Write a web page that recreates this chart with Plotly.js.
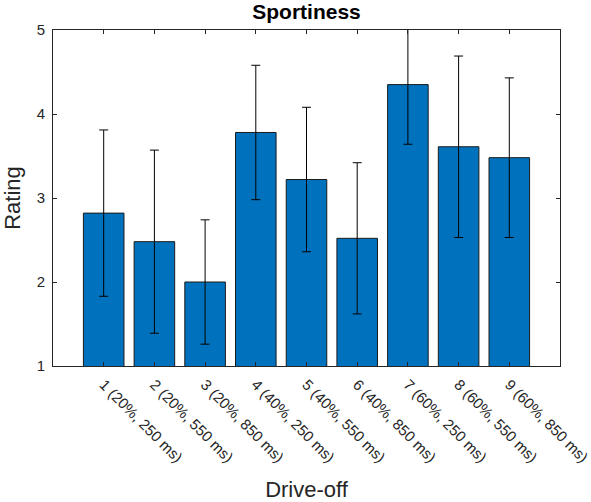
<!DOCTYPE html>
<html>
<head>
<meta charset="utf-8">
<script src="https://cdn.plot.ly/plotly-3.0.1.min.js"></script>
<style>
  html, body { margin: 0; padding: 0; background: #fff; }
  #chart { width: 591px; height: 502px; }
</style>
</head>
<body>
<div id="chart"></div>
<script>
// Drive-off conditions (step height, duration) and their mean sportiness rating
const categories = [
  '1 (20%, 250 ms)', '2 (20%, 550 ms)', '3 (20%, 850 ms)',
  '4 (40%, 250 ms)', '5 (40%, 550 ms)', '6 (40%, 850 ms)',
  '7 (60%, 250 ms)', '8 (60%, 550 ms)', '9 (60%, 850 ms)'
];
const meanRating = [2.82, 2.48, 2.00, 3.78, 3.22, 2.52, 4.35, 3.61, 3.48];
const stdRating  = [0.99, 1.09, 0.74, 0.80, 0.86, 0.90, 0.71, 1.08, 0.95];
const yTicks = [1, 2, 3, 4, 5];

const axisColor = '#262626';
const fontFamily = 'Liberation Sans, Arial, Helvetica, sans-serif';

const trace = {
  type: 'bar',
  x: categories,
  y: meanRating,
  marker: {
    color: '#0072BD',
    line: { color: '#1a1a1a', width: 1 }
  },
  error_y: {
    type: 'data',
    array: stdRating,
    symmetric: true,
    color: '#000000',
    thickness: 1,
    width: 4.5
  },
  hoverinfo: 'x+y'
};

const layout = {
  width: 591,
  height: 502,
  margin: { l: 53, r: 31, t: 30, b: 136 },
  paper_bgcolor: '#ffffff',
  plot_bgcolor: '#ffffff',
  showlegend: false,
  bargap: 0.2,
  font: { family: fontFamily, color: axisColor, size: 15 },
  title: {
    text: '<b>Sportiness</b>',
    font: { family: fontFamily, size: 21, color: '#000000' },
    x: 0.5, xref: 'paper', xanchor: 'center',
    y: 1, yref: 'container', yanchor: 'top', pad: { t: 4 }
  },
  xaxis: {
    type: 'category',
    range: [-1, 9],
    tickangle: 45,
    ticks: 'inside',
    ticklen: 4,
    tickcolor: axisColor,
    showline: true,
    linecolor: axisColor,
    linewidth: 1,
    mirror: 'ticks',
    showgrid: false,
    zeroline: false,
    tickfont: { size: 15, color: axisColor },
    ticklabelstandoff: 3,
    title: {
      text: 'Drive-off',
      font: { size: 22, color: axisColor },
      standoff: 18
    }
  },
  yaxis: {
    range: [1, 5],
    tickvals: yTicks,
    ticktext: yTicks.map(String),
    ticks: 'inside',
    ticklen: 4,
    tickcolor: axisColor,
    showline: true,
    linecolor: axisColor,
    linewidth: 1,
    mirror: 'ticks',
    showgrid: false,
    zeroline: false,
    tickfont: { size: 15, color: axisColor },
    ticklabelstandoff: 4,
    title: {
      text: 'Rating',
      font: { size: 22, color: axisColor },
      standoff: 9
    }
  }
};

Plotly.newPlot('chart', [trace], layout, { displayModeBar: false, staticPlot: true });
</script>
</body>
</html>
